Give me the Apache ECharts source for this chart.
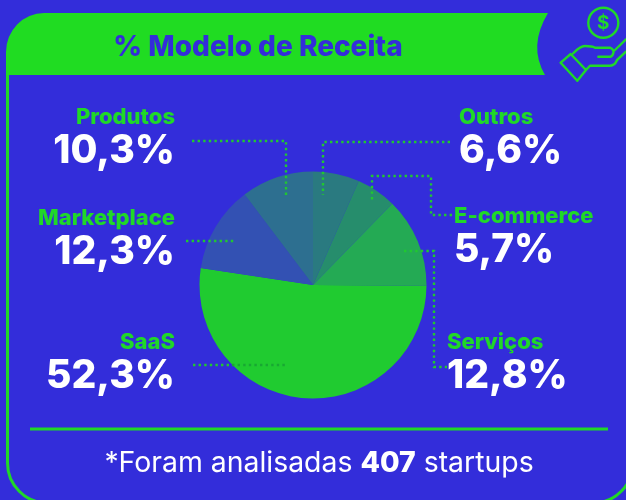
<!DOCTYPE html>
<html><head><meta charset="utf-8">
<style>html,body{margin:0;padding:0;background:#332dda}#c{width:626px;height:500px}</style>
<script src="https://cdn.jsdelivr.net/npm/echarts@6/dist/echarts.min.js"></script>
</head><body><div id="c"></div>
<script>
const categories = ['Outros','E-commerce','Serviços','SaaS','Marketplace','Produtos'];
const shares = [6.6,5.7,12.8,52.3,12.3,10.3];
const sliceColors = ['#2a7a80','#268d6c','#24aa54','#20cb30','#3351b3','#2d6f90'];
const labelAnchors = [[459,136,'left'],[454,235,'left'],[447,361,'left'],[175,361,'right'],[175,237,'right'],[175,136,'right']];
const leaderLines = [
 [[450,142],[323,142],[323,195]],
 [[452,215],[431,215],[431,176],[372,176],[372,202]],
 [[404,251],[434,251],[434,367],[447,367]],
 [[193,365],[232,365]],
 [[186,241],[236,241]],
 [[192,141],[286,141],[286,198]]
];
const GREEN='#20d828', BLUE='#332dda', FONT='Inter';
const fmt=v=>v.toFixed(1).replace('.',',')+'%';
const line=(pts,color)=>({type:'polyline',shape:{points:pts},style:{stroke:color||'#20c830',fill:null,lineWidth:2.4,lineDash:[2.4,3.2]},z:10});
const reg=(name,d)=>echarts.graphic.registerShape(name,echarts.graphic.extendPath(d,{}));
reg('frameShape','M7.5 60 L7.5 463 A40 40 0 0 0 47.5 503 L593 503 A40 40 0 0 0 633 463');
reg('bannerShape','M6 75 L6 52 A38 39 0 0 1 44 13 L548 13 Q528 46 545 75 Z');
reg('handShape','M560.7 62.7 L570.7 54 L586 70 L577.3 80.7 Z M573.3 53.3 Q580 46 585 46 Q592 46 595 47.7 L610 47.7 Q615 50 613 54 Q612 56.7 610 56.7 L598.3 56.7 M586 70 L590 65.7 L610 65.7 Q615 65.7 617 60 L626 51.7 M615 50 L626 39.3');
const chart=echarts.init(document.getElementById('c'),null,{renderer:'canvas'});
chart.setOption({
 animation:false,
 backgroundColor:BLUE,
 title:[
  {text:'% Modelo de Receita',left:253,top:43,textAlign:'center',textVerticalAlign:'middle',z:20,
   textStyle:{color:BLUE,fontFamily:FONT,fontWeight:800,fontSize:28}},
  {text:'*Foram analisadas {b|407} startups',left:314,top:458,textAlign:'center',textVerticalAlign:'middle',z:20,
   textStyle:{color:'#fff',fontFamily:FONT,fontWeight:400,fontSize:28.4,
    rich:{b:{color:'#fff',fontFamily:FONT,fontWeight:800,fontSize:28.4}}}}
 ],
 graphic:{elements:[
  {type:'frameShape',z:1,style:{stroke:GREEN,fill:null,lineWidth:3}},
  {type:'bannerShape',z:2,style:{fill:'#20dc22',stroke:null}},
  {type:'line',z:2,shape:{x1:30,y1:429,x2:608,y2:429},style:{stroke:GREEN,lineWidth:3}},
  ...leaderLines.map(l=>line(l)),
  line([[232,365],[288,365]],'#18a832'),
  {type:'circle',z:3,shape:{cx:603.3,cy:22.7,r:15},style:{stroke:GREEN,fill:null,lineWidth:2.4}},
  {type:'text',z:3,x:603.3,y:23,style:{text:'$',fill:GREEN,font:'700 19px Inter',align:'center',verticalAlign:'middle'}},
  {type:'handShape',z:3,style:{stroke:GREEN,fill:null,lineWidth:2.4,lineJoin:'round',lineCap:'round'}}
 ]},
 series:[{
  type:'pie',center:[313,285],radius:[0,113.5],startAngle:90,clockwise:true,
  avoidLabelOverlap:false,silent:true,
  labelLine:{show:false},
  label:{show:true,position:'outside',
   formatter:p=>'{n|'+p.name+'}\n{v|'+fmt(p.value)+'}',
   rich:{
    n:{color:GREEN,fontFamily:FONT,fontWeight:800,fontSize:22,lineHeight:30},
    v:{color:'#fff',fontFamily:FONT,fontWeight:800,fontSize:39,lineHeight:38}
   }},
  labelLayout:p=>{const a=labelAnchors[p.dataIndex];return {x:a[0],y:a[1],align:a[2],verticalAlign:'middle',hideOverlap:false};},
  data:categories.map((n,i)=>({name:n,value:shares[i],itemStyle:{color:sliceColors[i]}}))
 }]
});
</script></body></html>
